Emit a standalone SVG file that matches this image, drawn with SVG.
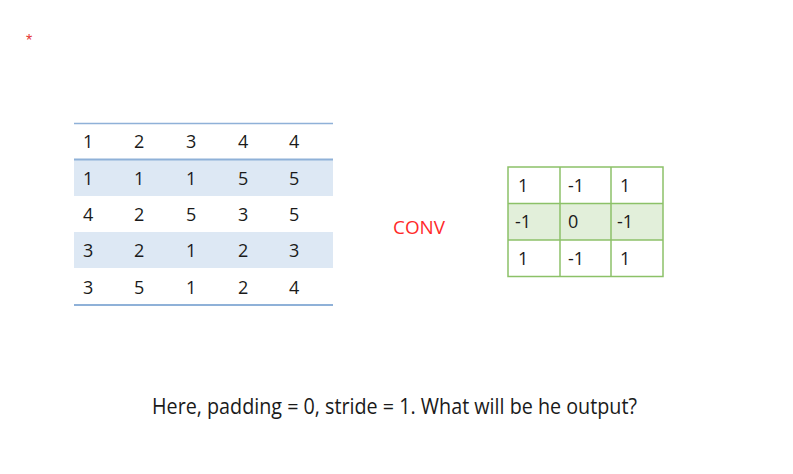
<svg xmlns="http://www.w3.org/2000/svg" width="793" height="474" viewBox="0 0 793 474">
<style>
.t{font-family:"Open Sans","Liberation Sans",sans-serif;font-size:18px;fill:#1a1a1a}
.band{fill:#dde8f4}
.kb{fill:none;stroke:#8cc168;stroke-width:1.5}
</style>
<rect width="793" height="474" fill="#fff"/>
<text x="26" y="46" font-family="Liberation Sans, sans-serif" font-size="16" fill="#e53935">*</text>
<g id="input-matrix">
<rect class="band" x="74" y="159.5" width="259" height="36.5"/>
<rect class="band" x="74" y="232" width="259" height="36"/>
<line x1="74" y1="123.5" x2="333" y2="123.5" stroke="#8fb1d8" stroke-width="1.4"/>
<line x1="74" y1="159.5" x2="333" y2="159.5" stroke="#8fb1d8" stroke-width="2"/>
<line x1="74" y1="305" x2="333" y2="305" stroke="#8fb1d8" stroke-width="2"/>
<g class="t">
<text x="83" y="148">1</text><text x="134" y="148">2</text><text x="186" y="148">3</text><text x="238" y="148">4</text><text x="289" y="148">4</text>
<text x="83" y="184.5">1</text><text x="134" y="184.5">1</text><text x="186" y="184.5">1</text><text x="238" y="184.5">5</text><text x="289" y="184.5">5</text>
<text x="83" y="221">4</text><text x="134" y="221">2</text><text x="186" y="221">5</text><text x="238" y="221">3</text><text x="289" y="221">5</text>
<text x="83" y="257">3</text><text x="134" y="257">2</text><text x="186" y="257">1</text><text x="238" y="257">2</text><text x="289" y="257">3</text>
<text x="83" y="293.5">3</text><text x="134" y="293.5">5</text><text x="186" y="293.5">1</text><text x="238" y="293.5">2</text><text x="289" y="293.5">4</text>
</g>
</g>
<g id="conv-label">
<text x="393" y="234" font-family="Open Sans, Liberation Sans, sans-serif" font-size="18" fill="#ff2a2a" textLength="52" lengthAdjust="spacingAndGlyphs">CONV</text>
</g>
<g id="kernel">
<rect x="508" y="203.5" width="155" height="36.5" fill="#e2efda"/>
<rect class="kb" x="508" y="167" width="155" height="109.5"/>
<line class="kb" x1="560" y1="167" x2="560" y2="276.5"/>
<line class="kb" x1="611" y1="167" x2="611" y2="276.5"/>
<line class="kb" x1="508" y1="203.5" x2="663" y2="203.5" stroke-width="2"/>
<line class="kb" x1="508" y1="240" x2="663" y2="240" stroke-width="2"/>
<g class="t">
<text x="518" y="192">1</text><text x="568" y="192">-1</text><text x="620" y="192">1</text>
<text x="515" y="228">-1</text><text x="568" y="228">0</text><text x="617" y="228">-1</text>
<text x="518" y="265">1</text><text x="568" y="265">-1</text><text x="620" y="265">1</text>
</g>
</g>
<text x="152" y="413.5" font-family="Open Sans, Liberation Sans, sans-serif" font-size="21" fill="#1a1a1a" textLength="485" lengthAdjust="spacingAndGlyphs">Here, padding = 0, stride = 1. What will be he output?</text>
</svg>
